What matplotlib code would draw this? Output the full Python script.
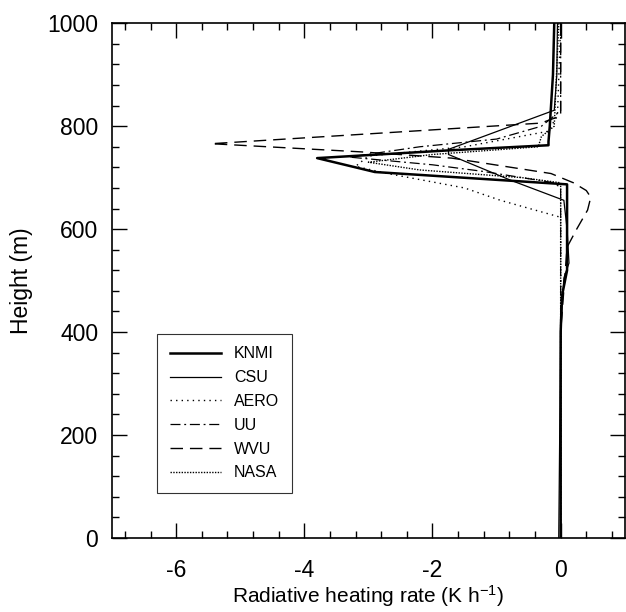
import matplotlib
matplotlib.use("Agg")
import matplotlib.pyplot as plt
from matplotlib.ticker import MultipleLocator

plt.rcParams['font.family'] = ['Liberation Sans', 'DejaVu Sans']
plt.rcParams['mathtext.default'] = 'regular'
plt.rcParams['axes.unicode_minus'] = False

# profiles: (height m, heating rate K/h)
knmi_h = [1000, 900, 800, 770, 763, 753, 738, 711, 687, 600, 520, 470, 400, 0]
knmi_v = [-0.1, -0.12, -0.17, -0.19, -0.19, -1.75, -3.8, -2.9, 0.1, 0.1, 0.1, 0.02, 0.0, 0.0]

csu_h = [1000, 900, 831, 755, 745, 695, 656, 600, 534, 505, 400, 0]
csu_v = [-0.05, -0.06, -0.1, -1.75, -1.75, -0.78, 0.05, 0.1, 0.13, 0.05, 0.0, -0.03]

aero_h = [1000, 820, 790, 760, 742, 722, 708, 680, 656, 623, 400, 0]
aero_v = [0.0, -0.05, -0.2, -1.5, -3.0, -3.2, -2.7, -1.5, -0.94, 0.0, 0.0, 0.0]

uu_h = [1000, 830, 800, 775, 760, 740, 725, 712, 700, 690, 680, 0]
uu_v = [0.0, 0.0, -0.3, -1.0, -2.2, -3.3, -2.0, -1.2, -0.6, -0.1, 0.0, 0.0]

wvu_h = [1000, 820, 806, 766, 750, 738, 708, 690, 675, 662, 637, 600, 565, 400, 0]
wvu_v = [0.0, 0.0, -0.31, -5.45, -3.1, -1.7, -0.15, 0.2, 0.4, 0.47, 0.42, 0.25, 0.1, 0.0, 0.0]

nasa_h = [1000, 800, 780, 760, 745, 730, 715, 700, 690, 0]
nasa_v = [-0.03, -0.1, -0.3, -0.35, -2.0, -3.0, -2.2, -0.6, 0.0, 0.0]

fig = plt.figure(figsize=(6.26, 6.12), dpi=100)
ax = fig.add_axes([0.179, 0.121, 0.819, 0.841])

ax.plot(knmi_v, knmi_h, color='black', lw=1.8, label='KNMI')
ax.plot(csu_v, csu_h, color='black', lw=0.9, label='CSU')
ax.plot(aero_v, aero_h, color='black', lw=1.0, ls=(0, (1, 3)), label='AERO')
ax.plot(uu_v, uu_h, color='black', lw=0.9, ls=(0, (8, 3, 1.5, 3)), label='UU')
ax.plot(wvu_v, wvu_h, color='black', lw=1.0, ls=(0, (9, 5)), label='WVU')
ax.plot(nasa_v, nasa_h, color='black', lw=1.0, ls=(0, (1, 1)), label='NASA')

ax.set_xlim(-7, 1)
ax.set_ylim(0, 1000)
ax.xaxis.set_major_locator(MultipleLocator(2))
ax.xaxis.set_minor_locator(MultipleLocator(0.4))
ax.yaxis.set_major_locator(MultipleLocator(200))
ax.yaxis.set_minor_locator(MultipleLocator(40))
ax.tick_params(which='both', direction='in', top=True, right=True, width=1.0)
ax.tick_params(which='major', length=11, labelsize=16.5)
ax.tick_params(axis='x', which='major', pad=15)
ax.tick_params(axis='y', which='major', pad=10)
ax.tick_params(which='minor', length=5)
for s in ax.spines.values():
    s.set_linewidth(1.2)

ax.set_xlabel(r'Radiative heating rate (K h$^{-1}$)', fontsize=15, labelpad=1)
ax.set_ylabel('Height (m)', fontsize=16.5, labelpad=10)

leg = ax.legend(loc='lower left', bbox_to_anchor=(0.088, 0.087), borderaxespad=0,
                fontsize=11.5, frameon=True, fancybox=False, edgecolor='black',
                handlelength=3.2, labelspacing=0.55, borderpad=0.8)
leg.get_frame().set_linewidth(0.8)

fig.savefig('out.png', dpi=100)
